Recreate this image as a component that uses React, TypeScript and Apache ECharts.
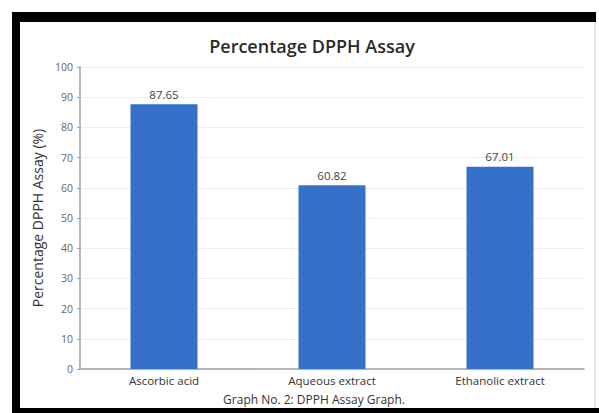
import React, { useEffect, useRef } from "react";
import * as echarts from "echarts";

const categories = ["Ascorbic acid", "Aqueous extract", "Ethanolic extract"];
const values = [87.65, 60.82, 67.01];
const chartTitle = "Percentage DPPH Assay";
const yAxisName = "Percentage DPPH Assay (%)";
const caption = "Graph No. 2: DPPH Assay Graph.";

export default function App() {
  const ref = useRef<HTMLDivElement>(null);
  useEffect(() => {
    if (!ref.current) return;
    const chart = echarts.init(ref.current, null, { renderer: "svg" });
    const font = "'Open Sans', 'Noto Sans', sans-serif";
    chart.setOption({
      animation: false,
      backgroundColor: "#fff",
      textStyle: { fontFamily: font },
      title: {
        text: chartTitle,
        left: 307,
        top: 32,
        textAlign: "center",
        textStyle: { fontSize: 18, fontWeight: 600, color: "#2a2a2a", fontFamily: font },
      },
      grid: { left: 80, right: 15, top: 67, bottom: 44 },
      xAxis: {
        type: "category",
        data: categories,
        axisLine: { show: true, lineStyle: { color: "#a0a0a0", width: 1.5 } },
        axisTick: { show: false },
        axisLabel: { color: "#333", fontSize: 11.5, margin: 5, fontFamily: font },
      },
      yAxis: {
        type: "value",
        min: 0,
        max: 100,
        interval: 10,
        name: yAxisName,
        nameLocation: "middle",
        nameGap: 35,
        nameTextStyle: { color: "#333", fontSize: 14, fontFamily: font },
        axisLine: { show: true, lineStyle: { color: "#a0a0a0", width: 1.5 } },
        axisTick: { show: true, length: 3, lineStyle: { color: "#a0a0a0" } },
        axisLabel: { color: "#666", fontSize: 10.5, margin: 7, fontFamily: font },
        splitLine: { show: true, lineStyle: { color: "#ededed" } },
      },
      series: [
        {
          type: "bar",
          data: values,
          barWidth: 67,
          itemStyle: { color: "#3571c8" },
          label: {
            show: true,
            position: "top",
            distance: 4,
            color: "#444",
            fontSize: 11.5,
            fontFamily: font,
            formatter: (p: any) => p.value.toFixed(2),
          },
        },
      ],
      graphic: [
        { type: "rect", shape: { x: 12, y: 12, width: 584, height: 10 }, style: { fill: "#000" } },
        { type: "rect", shape: { x: 12, y: 12, width: 8, height: 401 }, style: { fill: "#000" } },
        { type: "rect", shape: { x: 12, y: 408, width: 587, height: 5 }, style: { fill: "#000" } },
        { type: "line", shape: { x1: 595, y1: 22, x2: 595, y2: 408 }, style: { stroke: "#cfcfcf", lineWidth: 1 } },
        {
          type: "text",
          x: 314,
          y: 399,
          style: {
            text: caption,
            align: "center",
            verticalAlign: "middle",
            fontSize: 12,
            fill: "#333",
            fontFamily: font,
          },
        },
      ],
    });
    return () => chart.dispose();
  }, []);
  return (
    <div
      ref={ref}
      style={{ position: "absolute", left: 0, top: 0, width: 599, height: 413 }}
    />
  );
}
